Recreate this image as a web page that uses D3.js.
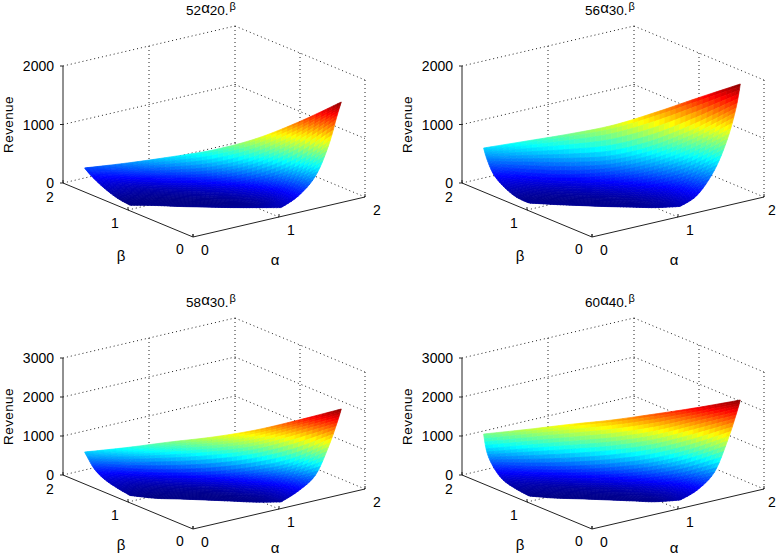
<!DOCTYPE html>
<html><head><meta charset="utf-8">
<script src="https://cdn.jsdelivr.net/npm/d3@7"></script>
<style>html,body{margin:0;padding:0;background:#fff}svg{display:block}text{font-family:"Liberation Sans",Arial,sans-serif;fill:#000}</style>
</head><body><svg id="c" width="777" height="555"></svg>
<script>
// Surface samples: each row follows alpha+beta = rowSums[r], stations run along it.
const rowSums = [1.2, 1.4, 1.6, 1.75, 1.85, 1.9];
const stationFractions = [0, 1/6, 1/3, 1/2, 2/3, 5/6, 1];
const edgeMargin = 0.1;
const revenue52 = [
  [0,17,19,30,41,60,80],
  [32,15,10,12,25,70,210],
  [111,55,40,50,90,210,484],
  [196,120,110,150,260,500,945],
  [269,280,320,400,600,950,1424],
  [315,434,571,724,950,1270,1646]];
const revenue56 = [
  [39,34,36,39,50,60,100],
  [50,28,25,30,45,100,226],
  [145,85,75,100,160,300,586],
  [281,220,220,300,450,700,1063],
  [492,530,570,646,850,1170,1559],
  [656,809,964,1143,1397,1680,1954]];
const revenue58 = [
  [46,5,15,20,23,25,60],
  [100,40,25,20,35,90,238],
  [192,110,85,90,170,300,546],
  [345,260,260,330,480,720,1187],
  [558,640,740,866,1060,1390,1751],
  [677,844,1036,1214,1444,1751,2085]];
const revenue60 = [
  [33,10,20,25,30,35,110],
  [74,50,35,40,60,120,264],
  [167,130,120,150,230,370,623],
  [397,380,420,520,680,950,1341],
  [712,850,980,1120,1330,1640,1956],
  [1138,1305,1485,1650,1854,2072,2315]];
const titleBases = [["52","20"],["56","30"],["58","30"],["60","40"]];
const zTicksTop = [0,1000,2000];
const zTicksBottom = [0,1000,2000,3000];
const planTicks = [0,1,2];
const jetStops = ["#000080","#0000ff","#00ffff","#ffff00","#ff0000","#800000"];
const jetAt = [0,0.125,0.375,0.625,0.875,1];

const panels = [
  {ox:193, oy:237, data:revenue52, ticks:zTicksTop,    title:titleBases[0], lower:false, right:false},
  {ox:592, oy:237, data:revenue56, ticks:zTicksTop,    title:titleBases[1], lower:false, right:true},
  {ox:193, oy:529, data:revenue58, ticks:zTicksBottom, title:titleBases[2], lower:true,  right:false},
  {ox:592, oy:529, data:revenue60, ticks:zTicksBottom, title:titleBases[3], lower:true,  right:true}
];
const svg = d3.select("#c");
const aX = d3.scaleLinear([0,2],[0,172]), aY = d3.scaleLinear([0,2],[0,-40]);
const bX = d3.scaleLinear([0,2],[0,-130]), bY = d3.scaleLinear([0,2],[0,-54]);
const SUB_U = 8, SUB_V = 6;
const cr = (p0,p1,p2,p3,t) => 0.5*((2*p1)+(-p0+p2)*t+(2*p0-5*p1+4*p2-p3)*t*t+(-p0+3*p1-3*p2+p3)*t*t*t);

panels.forEach(p => {
  const zMax = d3.max(p.ticks);
  const zS = d3.scaleLinear([0,zMax],[0,-117]);
  const proj = (a,b,z) => [p.ox+aX(a)+bX(b), p.oy+aY(a)+bY(b)+zS(z)];
  const g = svg.append("g");
  const line = d3.line();
  const dotted = pts => g.append("path").attr("d",line(pts)).attr("fill","none")
      .attr("stroke","#222").attr("stroke-width",1).attr("stroke-dasharray","1 3");
  planTicks.forEach(t => {
    if (t>0) dotted([proj(t,0,0),proj(t,2,0)]);
    if (t>0) dotted([proj(0,t,0),proj(2,t,0)]);
  });
  p.ticks.forEach(z => { if (z>0) {
    dotted([proj(0,2,z),proj(2,2,z)]);
    dotted([proj(2,2,z),proj(2,0,z)]);
  }});
  [[1,2],[2,2],[2,1],[2,0]].forEach(([a,b]) => dotted([proj(a,b,0),proj(a,b,zMax)]));

  const rows = p.data, R = rows.length, S = stationFractions.length;
  const jet = d3.scaleLinear().domain(jetAt.map(f=>f*d3.max(rows.flat()))).range(jetStops)
      .interpolate(d3.interpolateRgb).clamp(true);
  const node = (r,s) => {
    r=Math.max(0,Math.min(R-1,r)); s=Math.max(0,Math.min(S-1,s));
    const t = rowSums[r], a = edgeMargin + (t-2*edgeMargin)*stationFractions[s];
    return {a, b:t-a, z:rows[r][s]};
  };
  const cells = [];
  for (let r=R-2;r>=0;r--) for (let s=0;s<S-1;s++) {
    const at=(u,v)=>{
      const mix=k=>{
        const col=[-1,0,1,2].map(dr=>cr(node(r+dr,s-1)[k],node(r+dr,s)[k],node(r+dr,s+1)[k],node(r+dr,s+2)[k],u));
        return cr(col[0],col[1],col[2],col[3],v);
      };
      return {a:mix("a"),b:mix("b"),z:Math.max(0,mix("z"))};
    };
    for (let j=SUB_V-1;j>=0;j--) for (let i=0;i<SUB_U;i++) {
      const u0=i/SUB_U,u1=(i+1)/SUB_U,v0=j/SUB_V,v1=(j+1)/SUB_V;
      const q=[at(u0,v0),at(u1,v0),at(u1,v1),at(u0,v1)];
      cells.push({pts:q.map(c=>proj(c.a,c.b,c.z)), z:d3.mean(q,c=>c.z)});
    }
  }
  g.append("g").selectAll("path").data(cells).join("path")
    .attr("d",d=>line(d.pts)+"Z")
    .attr("fill",d=>jet(d.z)).attr("stroke",d=>jet(d.z)).attr("stroke-width",0.7);

  const solid = pts => g.append("path").attr("d",line(pts)).attr("fill","none")
      .attr("stroke","#222").attr("stroke-width",1);
  solid([proj(0,2,0),proj(0,2,zMax)]);
  solid([proj(0,2,0),proj(0,0,0)]);
  solid([proj(0,0,0),proj(2,0,0)]);
  p.ticks.forEach(z => {
    const [x,y]=proj(0,2,z);
    solid([[x-3,y],[x,y]]);
    g.append("text").attr("x",x-9).attr("y",y+5).attr("text-anchor","end")
      .attr("font-size",14).text(z);
  });
  planTicks.forEach((t,i) => {
    const [ax,ay]=proj(t,0,0), [bx,by]=proj(0,t,0);
    solid([[ax,ay],[ax,ay-3]]);
    solid([[bx,by],[bx,by-3]]);
    g.append("text").attr("x",ax+(p.right&&t===2?8:12)).attr("y",ay+18).attr("text-anchor","middle").attr("font-size",14).text(t);
    g.append("text").attr("x",bx-13).attr("y",by+17+i).attr("text-anchor","middle").attr("font-size",14).text(t);
  });
  g.append("text").attr("x",p.ox+82).attr("y",p.oy+(p.lower?24:28)).attr("text-anchor","middle").attr("font-size",15).text("α");
  g.append("text").attr("x",p.ox-72).attr("y",p.oy+(p.lower?21:24)).attr("text-anchor","middle").attr("font-size",15).text("β");
  const [lx,ly0]=proj(0,2,0), [,ly1]=proj(0,2,zMax);
  g.append("text").attr("transform",`translate(${lx-50.5},${(ly0+ly1)/2}) rotate(-90)`)
    .attr("text-anchor","middle").attr("font-size",13.5).attr("letter-spacing",0.4).text("Revenue");
  const t = g.append("text").attr("x",p.ox+18).attr("y",p.oy-222).attr("text-anchor","middle").attr("font-size",13.5);
  t.append("tspan").text(p.title[0]);
  t.append("tspan").attr("dy",-2).attr("font-size",15).text("α");
  t.append("tspan").attr("dy",2).text(p.title[1]+".");
  t.append("tspan").attr("dy",-5).attr("font-size",11).attr("dx",1).text("β");
});
</script></body></html>
